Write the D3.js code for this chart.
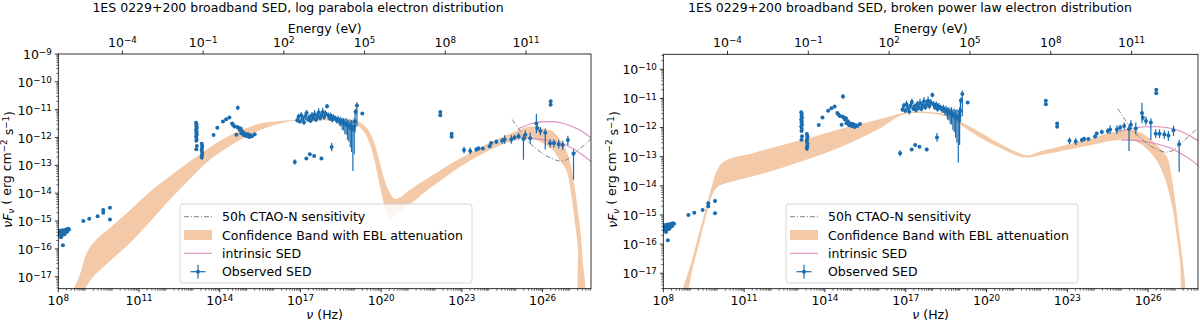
<!DOCTYPE html>
<html>
<head>
<meta charset="utf-8">
<script src="https://cdn.jsdelivr.net/npm/d3@7"></script>
<style>
body { margin: 0; background: #fff; }
svg { font-family: "DejaVu Sans", sans-serif; }
</style>
</head>
<body>
<svg id="chart" width="1200" height="322"></svg>
<script>
//All values are log10: [log nu (Hz), log nuFnu, err down, err up, x half-width] (decades)
var radioData = [
	[8.03,-15.45,0.04,0.04,0],[8.05,-15.35,0.04,0.04,0],[8.07,-15.52,0.04,0.04,0],[8.09,-15.4,0.04,0.04,0],
	[8.1,-15.58,0.04,0.04,0],[8.12,-15.44,0.04,0.04,0],[8.14,-15.33,0.04,0.04,0],[8.15,-15.5,0.04,0.04,0],
	[8.17,-15.87,0.03,0.03,0],[8.19,-15.42,0.04,0.04,0],[8.21,-15.36,0.04,0.04,0],[8.23,-15.47,0.04,0.04,0],
	[8.25,-15.32,0.04,0.04,0],[8.27,-15.4,0.04,0.04,0],[8.3,-15.3,0.04,0.04,0],[8.33,-15.38,0.04,0.04,0],
	[8.36,-15.28,0.04,0.04,0],[8.4,-15.3,0.04,0.04,0],
	[8.93,-15.0,0.03,0.03,0],[9.15,-14.92,0.03,0.03,0],[9.46,-14.83,0.03,0.03,0],[9.67,-14.6,0.06,0.06,0],
	[9.67,-14.7,0.05,0.05,0],[9.92,-14.52,0.05,0.05,0],[9.92,-14.94,0.05,0.05,0]
];
var opticalData = [
	[13.12,-11.47,0.04,0.04,0],[13.14,-11.53,0.04,0.04,0],[13.13,-11.6,0.04,0.04,0],[13.15,-11.66,0.04,0.04,0],
	[13.12,-11.72,0.04,0.04,0],[13.14,-11.78,0.04,0.04,0],[13.13,-11.84,0.04,0.04,0],[13.15,-11.9,0.04,0.04,0],
	[13.12,-11.96,0.04,0.04,0],[13.14,-12.05,0.04,0.04,0],[13.13,-12.12,0.04,0.04,0],[13.15,-12.3,0.04,0.04,0],
	[13.13,-12.42,0.04,0.04,0],
	[13.33,-12.22,0.04,0.04,0],[13.35,-12.3,0.04,0.04,0],[13.34,-12.38,0.04,0.04,0],[13.33,-12.46,0.04,0.04,0],
	[13.35,-12.55,0.25,0.2,0],[13.34,-12.64,0.04,0.04,0],[13.33,-12.72,0.04,0.04,0],
	[13.77,-11.91,0.03,0.03,0],[13.91,-11.65,0.03,0.03,0],[14.12,-11.42,0.03,0.03,0],[14.24,-11.34,0.03,0.03,0],
	[14.36,-11.28,0.03,0.03,0],[14.46,-11.5,0.03,0.03,0],[14.5,-11.55,0.03,0.03,0],[14.55,-11.6,0.03,0.03,0],
	[14.67,-10.93,0.08,0.08,0],[14.62,-11.9,0.03,0.03,0],[14.65,-11.62,0.03,0.03,0],[14.7,-11.65,0.04,0.04,0],
	[14.74,-11.72,0.04,0.04,0],[14.78,-11.68,0.04,0.04,0],[14.8,-11.85,0.04,0.04,0],[14.85,-11.78,0.04,0.04,0],
	[14.9,-11.92,0.04,0.04,0],[14.95,-11.86,0.04,0.04,0],[15.0,-11.95,0.04,0.04,0],[15.05,-11.88,0.04,0.04,0],
	[15.1,-11.98,0.04,0.04,0],[15.15,-11.92,0.04,0.04,0],[15.2,-11.95,0.04,0.04,0],[15.3,-11.88,0.04,0.04,0]
];
var xrayData = [
	[16.88,-11.38,0.08,0.08,0],[16.93,-11.25,0.1,0.1,0],[16.98,-11.42,0.08,0.08,0],[17.03,-11.2,0.1,0.12,0],
	[17.08,-11.33,0.08,0.08,0],[17.13,-11.45,0.1,0.1,0],[17.18,-11.24,0.12,0.15,0],[17.23,-11.12,0.1,0.12,0],
	[17.28,-11.35,0.08,0.08,0],[17.33,-11.27,0.1,0.1,0],[17.38,-11.4,0.08,0.1,0],[17.43,-11.2,0.12,0.12,0],
	[17.48,-11.31,0.1,0.1,0],[17.53,-11.16,0.15,0.15,0],[17.58,-11.36,0.08,0.08,0],[17.63,-11.24,0.12,0.12,0],
	[17.68,-11.1,0.15,0.15,0],[17.73,-11.3,0.1,0.1,0],[17.78,-11.2,0.12,0.12,0],[17.83,-11.08,0.12,0.15,0],
	[17.88,-11.26,0.1,0.1,0],[17.93,-11.14,0.12,0.12,0],[17.99,-10.88,0.08,0.08,0],[18.03,-11.2,0.1,0.1,0],
	[18.08,-11.3,0.1,0.1,0],[18.13,-11.22,0.12,0.12,0],[18.18,-11.36,0.1,0.1,0],[18.23,-11.28,0.12,0.12,0],
	[18.3,-11.32,0.1,0.1,0],[18.35,-11.38,0.12,0.1,0],[18.4,-11.34,0.15,0.12,0],[18.45,-11.42,0.15,0.12,0],
	[18.5,-11.4,0.2,0.15,0],[18.55,-11.47,0.25,0.15,0],[18.6,-11.45,0.3,0.15,0],[18.65,-11.52,0.35,0.18,0],
	[18.7,-11.5,0.4,0.2,0],[18.75,-11.58,0.5,0.2,0],[18.8,-11.55,0.6,0.2,0],[18.85,-11.65,0.7,0.25,0],
	[18.9,-11.62,0.9,0.25,0],[18.95,-11.7,1.5,0.3,0],[19.0,-11.6,1.0,0.3,0],[19.03,-11.42,0.4,0.3,0],
	[19.05,-11.07,0.1,0.1,0],[19.1,-10.85,0.75,0.12,0],[19.3,-11.14,0.03,0.03,0]
];
var xrayLowData = [
	[16.79,-12.88,0.1,0.1,0.03],[17.22,-12.75,0.05,0.05,0.03],[17.35,-12.6,0.05,0.05,0.03],
	[17.51,-12.66,0.04,0.04,0.03],[17.78,-12.75,0.06,0.06,0.03],[18.16,-12.34,0.15,0.15,0.03]
];
var gammaData = [
	[22.2,-11.08,0.04,0.04,0],[22.2,-11.2,0.04,0.04,0],[22.62,-11.86,0.04,0.04,0],[22.62,-11.97,0.04,0.04,0],
	[23.08,-12.45,0.12,0.12,0.05],[23.31,-12.48,0.12,0.12,0.05],[23.54,-12.43,0.08,0.08,0.05],[23.62,-12.39,0.08,0.08,0.05],
	[23.78,-12.39,0.05,0.05,0.05],[24.03,-12.31,0.06,0.06,0.05],[24.09,-12.2,0.06,0.06,0.05],[24.28,-12.15,0.08,0.08,0.05],
	[24.5,-12.12,0.1,0.1,0.05],[24.59,-12.07,0.15,0.15,0.05],[24.84,-12.07,0.15,0.15,0.05],[24.96,-12.0,0.1,0.1,0.05],
	[25.11,-11.95,0.12,0.12,0.05]
];
var tevData = [
	[25.29,-12.05,0.75,0.15,0.04],[25.36,-11.9,0.15,0.15,0.04],[25.54,-12.03,0.2,0.2,0.04],[25.77,-11.5,0.35,0.35,0.04],
	[25.8,-11.66,0.1,0.1,0],[25.92,-11.77,0.15,0.15,0.04],[26.1,-11.83,0.6,0.15,0.04],[26.28,-12.21,0.15,0.15,0.04],
	[26.3,-10.7,0.04,0.04,0],[26.3,-10.82,0.04,0.04,0],[26.42,-12.21,0.15,0.15,0.04],[26.6,-12.24,0.15,0.15,0.04],
	[26.75,-12.27,0.18,0.15,0.04],[26.94,-12.09,0.2,0.15,0.04],[27.15,-12.57,0.95,0.15,0.04]
];

//50h CTAO-N sensitivity [log nu, log nuFnu]
var ctaoSens = [[24.87,-11.35],[25.14,-11.73],[25.39,-12.08],[25.64,-12.3],[26.14,-12.66],[26.63,-12.84],
	[26.88,-12.8],[27.2,-12.55],[27.62,-12.21],[27.95,-11.9]];

//log parabola model: confidence band edges and intrinsic SED
var lpBandUpper = [[8.56,-17.6],[8.81,-16.9],[9.08,-16.1],[9.45,-15.63],[9.95,-15.22],[10.6,-14.67],[11.34,-14.0],
	[12.21,-13.35],[13.2,-12.65],[14.07,-12.09],[14.81,-11.73],[15.55,-11.49],[16.3,-11.4],[16.79,-11.37],[17.5,-11.3],
	[18.3,-11.3],[18.9,-11.35],[19.2,-11.45],[19.5,-11.7],[19.75,-12.2],[19.95,-12.9],[20.1,-13.45],[20.3,-13.95],
	[20.5,-14.2],[20.7,-14.15],[21.0,-13.93],[21.5,-13.6],[22,-13.3],[22.5,-13.0],[23,-12.72],[23.5,-12.45],
	[24,-12.2],[24.5,-11.98],[25,-11.78],[25.3,-11.66],[25.7,-11.6],[26.0,-11.68],[26.38,-11.79],[26.75,-12.21],
	[27.0,-12.81],[27.19,-13.77],[27.31,-14.61],[27.43,-15.57],[27.49,-16.41],[27.55,-17.6]];
var lpBandLower = [[8.81,-17.6],[9.3,-17.0],[9.9,-16.45],[10.6,-15.85],[11.34,-15.1],[12.08,-14.3],[12.83,-13.55],
	[13.57,-12.85],[14.31,-12.35],[15.06,-11.93],[15.8,-11.62],[16.54,-11.43],[16.79,-11.4],[17.5,-11.38],[18.3,-11.4],
	[18.9,-11.45],[19.1,-11.55],[19.4,-11.85],[19.65,-12.45],[19.85,-13.25],[20.0,-13.95],[20.12,-14.45],[20.25,-14.8],
	[20.4,-14.9],[20.6,-14.72],[20.85,-14.52],[21.2,-14.3],[21.7,-13.9],[22.2,-13.55],[22.7,-13.2],[23.2,-12.9],
	[23.7,-12.62],[24.2,-12.38],[24.7,-12.18],[25.2,-12.05],[25.7,-12.07],[26.0,-12.2],[26.38,-12.45],[26.63,-12.81],
	[26.88,-13.17],[27.06,-14.01],[27.19,-14.97],[27.31,-15.93],[27.37,-17.6]];
var lpIntrUpper = [[25.1,-11.68],[25.27,-11.61],[25.64,-11.49],[26.01,-11.43],[26.38,-11.43],[26.75,-11.49],
	[27.12,-11.61],[27.49,-11.79],[27.85,-12.05]];
var lpIntrLower = [[25.1,-11.98],[25.64,-12.03],[26.14,-12.09],[26.63,-12.19],[27.12,-12.39],[27.49,-12.63],[27.85,-12.9]];

//broken power law model
var bplBandUpper = [[8.72,-17.7],[9.0,-16.75],[9.25,-15.9],[9.5,-15.05],[9.7,-14.35],[9.85,-13.85],[10.0,-13.45],
	[10.2,-13.2],[10.5,-13.05],[11,-12.95],[12,-12.7],[13,-12.45],[14,-12.2],[15,-11.95],[16,-11.72],[16.9,-11.5],
	[17.5,-11.45],[18.5,-11.55],[19.04,-11.8],[19.72,-12.14],[20.46,-12.54],[21.2,-12.87],[21.57,-12.95],[21.94,-12.83],
	[22.43,-12.72],[23.05,-12.57],[23.67,-12.43],[24.28,-12.26],[24.9,-12.11],[25.27,-12.06],[25.64,-12.14],
	[25.89,-12.26],[26.13,-12.43],[26.38,-12.66],[26.57,-12.83],[26.75,-13.12],[26.87,-13.69],[27.0,-14.49],
	[27.12,-15.41],[27.25,-16.32],[27.35,-17.7]];
var bplBandLower = [[8.85,-17.7],[9.1,-16.8],[9.35,-15.9],[9.6,-15.0],[9.8,-14.35],[10.0,-14.05],[10.3,-13.92],
	[11,-13.75],[12,-13.5],[13,-13.2],[14,-12.88],[15,-12.5],[16,-12.05],[16.9,-11.55],[17.5,-11.5],[18.5,-11.62],
	[19.04,-11.91],[19.72,-12.32],[20.46,-12.68],[21.2,-12.98],[21.57,-13.03],[21.94,-12.96],[22.43,-12.87],
	[23.05,-12.75],[23.67,-12.64],[24.28,-12.52],[24.9,-12.43],[25.27,-12.43],[25.64,-12.52],[25.89,-12.68],
	[26.13,-12.91],[26.38,-13.23],[26.57,-13.63],[26.75,-14.15],[26.94,-14.95],[27.06,-15.75],[27.19,-16.67],[27.27,-17.7]];
var bplIntrUpper = [[24.9,-12.14],[25.39,-12.03],[25.89,-11.97],[26.38,-11.97],[26.87,-12.03],[27.25,-12.14],
	[27.56,-12.29],[27.85,-12.45]];
var bplIntrLower = [[25.0,-12.43],[25.39,-12.43],[25.89,-12.49],[26.38,-12.57],[26.87,-12.72],[27.25,-12.91],
	[27.56,-13.09],[27.85,-13.3]];

//tick exponents
var nuTicks = [8, 11, 14, 17, 20, 23, 26];
var energyTicks = [-4, -1, 2, 5, 8, 11];
var legendLabels = ["50h CTAO-N sensitivity", "Confidence Band with EBL attenuation", "intrinsic SED", "Observed SED"];

var H_EV = 4.135667696e-15;
var observed = [].concat(radioData, opticalData, xrayData, xrayLowData, gammaData, tevData);

var bandColor = "#f3c9a7";
var pinkColor = "#dc8cbf";
var blueColor = "#1a6db0";
var fontSize = 12.5;

var panels = [
	{ title: "1ES 0229+200 broadband SED, log parabola electron distribution", titleX: 298,
	  left: 58.3, right: 591, top: 54, bottom: 288.7, yMin: -17.43, yMax: -9, xMax: 27.8,
	  yTicks: [-17,-16,-15,-14,-13,-12,-11,-10,-9], legX: 180, ylabX: 12,
	  bandU: lpBandUpper, bandL: lpBandLower, intrU: lpIntrUpper, intrL: lpIntrLower },
	{ title: "1ES 0229+200 broadband SED, broken power law electron distribution", titleX: 910,
	  left: 663.3, right: 1198, top: 54.3, bottom: 288.7, yMin: -17.53, yMax: -9.485, xMax: 27.85,
	  yTicks: [-17,-16,-15,-14,-13,-12,-11,-10], legX: 786, ylabX: 617,
	  bandU: bplBandUpper, bandL: bplBandLower, intrU: bplIntrUpper, intrL: bplIntrLower }
];

var svg = d3.select("#chart");
svg.append("rect").attr("width", 1200).attr("height", 322).attr("fill", "#fff");

panels.forEach(drawPanel);

function supText(sel, exp) {
	sel.append("tspan").text("10");
	sel.append("tspan")
		.attr("dy", "-0.45em")
		.style("font-size", "0.7em")
		.text(exp < 0 ? "\u2212" + (-exp) : exp);
}

function drawPanel(p, i) {

	var x = d3.scaleLog().domain([1e8, Math.pow(10, p.xMax)]).range([p.left, p.right]);
	var y = d3.scaleLog().domain([Math.pow(10, p.yMin), Math.pow(10, p.yMax)]).range([p.bottom, p.top]);
	var pt = function(d) { return [x(Math.pow(10, d[0])), y(Math.pow(10, d[1]))]; };

	var clipId = "clip" + i;
	svg.append("clipPath").attr("id", clipId)
		.append("rect")
		.attr("x", p.left).attr("y", p.top)
		.attr("width", p.right - p.left).attr("height", p.bottom - p.top);

	var plot = svg.append("g").attr("clip-path", "url(#" + clipId + ")");

	//confidence band
	var ring = p.bandU.concat(p.bandL.slice().reverse()).map(pt);
	plot.append("path")
		.attr("d", d3.line().curve(d3.curveCatmullRomClosed.alpha(0.5))(ring))
		.attr("fill", bandColor);

	//intrinsic SED
	var smooth = d3.line().curve(d3.curveMonotoneX);
	[p.intrU, p.intrL].forEach(function(edge) {
		plot.append("path")
			.attr("d", smooth(edge.map(pt)))
			.attr("fill", "none")
			.attr("stroke", pinkColor)
			.attr("stroke-width", 1.1);
	});

	//CTAO sensitivity
	plot.append("path")
		.attr("d", d3.line().curve(d3.curveCatmullRom)(ctaoSens.map(pt)))
		.attr("fill", "none")
		.attr("stroke", "#808080")
		.attr("stroke-width", 1)
		.attr("stroke-dasharray", "5,2,1,2");

	//observed points with error bars
	var obs = plot.append("g").attr("stroke", blueColor).attr("stroke-width", 1.2);
	observed.forEach(function(d) {
		var c = pt(d);
		if (d[2] || d[3]) {
			obs.append("line")
				.attr("x1", c[0]).attr("x2", c[0])
				.attr("y1", y(Math.pow(10, d[1] - d[2])))
				.attr("y2", y(Math.pow(10, d[1] + d[3])));
		}
		if (d[4]) {
			obs.append("line")
				.attr("y1", c[1]).attr("y2", c[1])
				.attr("x1", x(Math.pow(10, d[0] - d[4])))
				.attr("x2", x(Math.pow(10, d[0] + d[4])));
		}
		obs.append("circle")
			.attr("cx", c[0]).attr("cy", c[1]).attr("r", 2)
			.attr("fill", blueColor).attr("stroke", "none");
	});

	///////////////////////////////////////////////////////////////////////////
	//////////////////////////////// Axes /////////////////////////////////////
	///////////////////////////////////////////////////////////////////////////

	var axes = svg.append("g").attr("stroke", "#000").attr("stroke-width", 0.8);

	//minor ticks, log y and bottom x
	for (var e = Math.floor(p.yMin); e < Math.ceil(p.yMax); e++) {
		for (var k = 2; k < 10; k++) {
			var v = k * Math.pow(10, e);
			if (v < y.domain()[0] || v > y.domain()[1]) continue;
			axes.append("line").attr("x1", p.left - 2).attr("x2", p.left)
				.attr("y1", y(v)).attr("y2", y(v)).attr("stroke-width", 0.6);
		}
	}
	for (var e2 = 8; e2 < Math.ceil(p.xMax); e2++) {
		for (var k2 = 1; k2 < 10; k2++) {
			var v2 = k2 * Math.pow(10, e2);
			if (v2 > x.domain()[1] || (k2 === 1 && nuTicks.indexOf(e2) >= 0)) continue;
			axes.append("line").attr("y1", p.bottom).attr("y2", p.bottom + 2)
				.attr("x1", x(v2)).attr("x2", x(v2)).attr("stroke-width", 0.6);
		}
	}

	//major ticks and labels
	var labels = svg.append("g").style("font-size", fontSize + "px").attr("fill", "#000");

	p.yTicks.forEach(function(e) {
		var yy = y(Math.pow(10, e));
		axes.append("line").attr("x1", p.left - 3.5).attr("x2", p.left).attr("y1", yy).attr("y2", yy);
		var t = labels.append("text").attr("x", p.left - 6.5).attr("y", yy + 5).attr("text-anchor", "end");
		supText(t, e);
	});

	nuTicks.forEach(function(e) {
		var xx = x(Math.pow(10, e));
		axes.append("line").attr("x1", xx).attr("x2", xx).attr("y1", p.bottom).attr("y2", p.bottom + 3.5);
		var t = labels.append("text").attr("x", xx).attr("y", p.bottom + 16.5).attr("text-anchor", "middle");
		supText(t, e);
	});

	energyTicks.forEach(function(e) {
		var xx = x(Math.pow(10, e) / H_EV);
		axes.append("line").attr("x1", xx).attr("x2", xx).attr("y1", p.top).attr("y2", p.top - 3.5);
		var t = labels.append("text").attr("x", xx).attr("y", p.top - 7).attr("text-anchor", "middle");
		supText(t, e);
	});

	//frame
	axes.append("rect")
		.attr("x", p.left).attr("y", p.top)
		.attr("width", p.right - p.left).attr("height", p.bottom - p.top)
		.attr("fill", "none");

	///////////////////////////////////////////////////////////////////////////
	//////////////////////////// Titles & labels //////////////////////////////
	///////////////////////////////////////////////////////////////////////////

	var mid = (p.left + p.right) / 2;

	labels.append("text").attr("x", p.titleX).attr("y", 11.5).attr("text-anchor", "middle").text(p.title);
	labels.append("text").attr("x", mid).attr("y", 33).attr("text-anchor", "middle").text("Energy (eV)");

	var xl = labels.append("text").attr("x", mid).attr("y", 319).attr("text-anchor", "middle");
	xl.append("tspan").style("font-style", "italic").text("\u03bd");
	xl.append("tspan").text(" (Hz)");

	var yl = labels.append("text")
		.attr("transform", "translate(" + p.ylabX + "," + ((p.top + p.bottom) / 2 - 2) + ") rotate(-90)")
		.attr("text-anchor", "middle");
	yl.append("tspan").style("font-style", "italic").text("\u03bdF");
	yl.append("tspan").attr("dy", "0.25em").style("font-size", "0.7em").style("font-style", "italic").text("\u03bd");
	yl.append("tspan").attr("dy", "-0.25em").text(" ( erg cm");
	yl.append("tspan").attr("dy", "-0.45em").style("font-size", "0.7em").text("\u22122");
	yl.append("tspan").attr("dy", "0.45em").text(" s");
	yl.append("tspan").attr("dy", "-0.45em").style("font-size", "0.7em").text("\u22121");
	yl.append("tspan").attr("dy", "0.45em").text(")");

	///////////////////////////////////////////////////////////////////////////
	/////////////////////////////// Legend ////////////////////////////////////
	///////////////////////////////////////////////////////////////////////////

	var leg = svg.append("g").attr("transform", "translate(" + p.legX + ",204)");
	leg.append("rect")
		.attr("width", 292).attr("height", 79).attr("rx", 3)
		.attr("fill", "#fff").attr("fill-opacity", 0.8)
		.attr("stroke", "#cccccc").attr("stroke-width", 0.8);

	var rowY = [12.7, 31, 49.3, 67.7];
	leg.append("line").attr("x1", 4).attr("x2", 32).attr("y1", rowY[0]).attr("y2", rowY[0])
		.attr("stroke", "#808080").attr("stroke-dasharray", "5,2,1,2");
	leg.append("rect").attr("x", 4).attr("y", rowY[1] - 5).attr("width", 28).attr("height", 10)
		.attr("fill", bandColor);
	leg.append("line").attr("x1", 4).attr("x2", 32).attr("y1", rowY[2]).attr("y2", rowY[2])
		.attr("stroke", pinkColor).attr("stroke-width", 1.1);
	var eb = leg.append("g").attr("stroke", blueColor).attr("stroke-width", 1.2);
	eb.append("line").attr("x1", 10.5).attr("x2", 25.5).attr("y1", rowY[3]).attr("y2", rowY[3]);
	eb.append("line").attr("x1", 18).attr("x2", 18).attr("y1", rowY[3] - 7).attr("y2", rowY[3] + 7);
	eb.append("circle").attr("cx", 18).attr("cy", rowY[3]).attr("r", 2).attr("fill", blueColor).attr("stroke", "none");

	legendLabels.forEach(function(s, j) {
		leg.append("text").attr("x", 42).attr("y", rowY[j] + 4.5)
			.style("font-size", fontSize + "px").text(s);
	});
}
</script>
</body>
</html>
